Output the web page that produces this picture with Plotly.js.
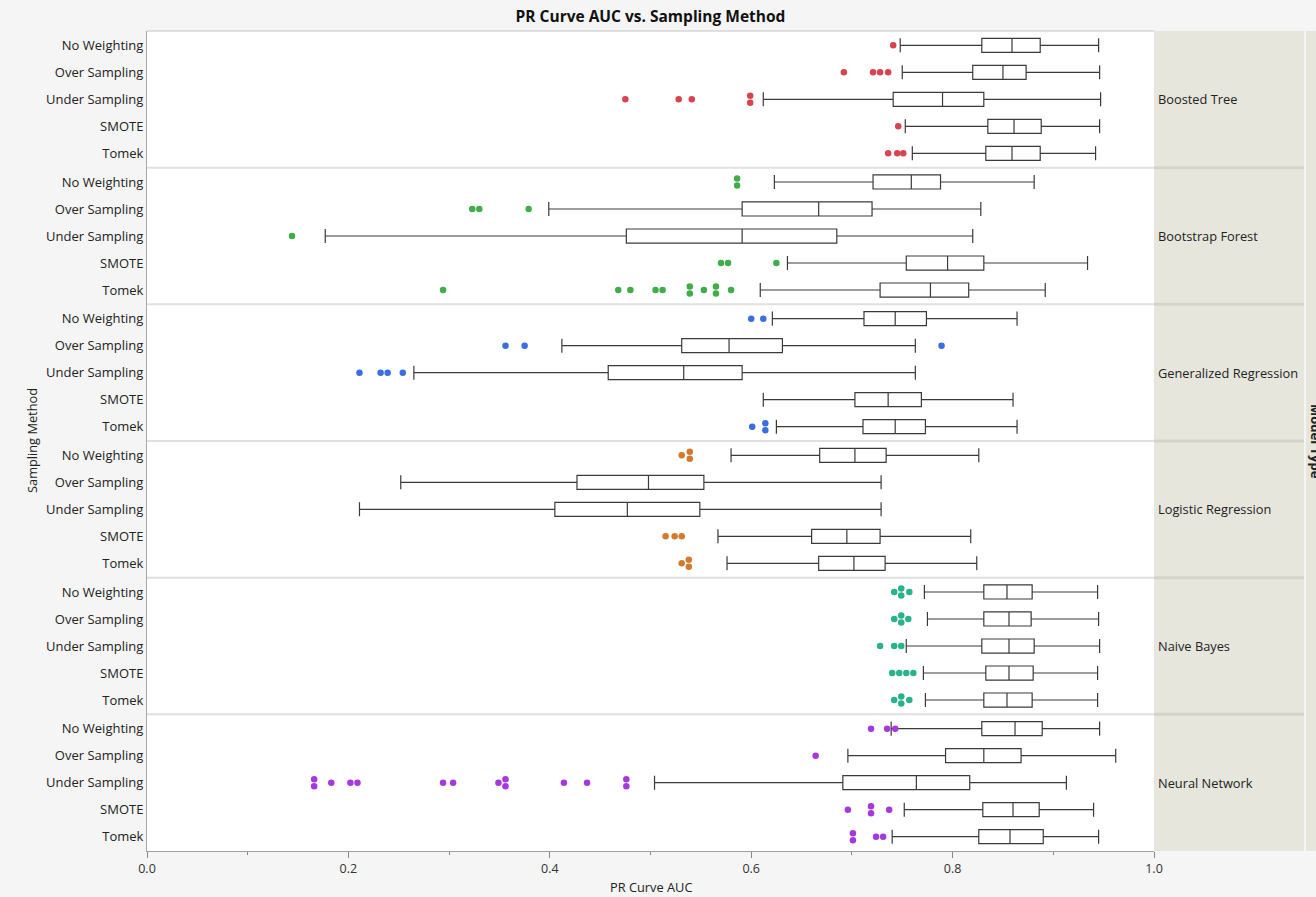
<!DOCTYPE html>
<html>
<head>
<meta charset="utf-8">
<script src="https://cdn.plot.ly/plotly-3.0.1.min.js"></script>
<style>html,body{margin:0;padding:0;background:#f5f5f5;}#chart{width:1316px;height:897px;}</style>
</head>
<body>
<div id="chart"></div>
<script>
const methods = ['No Weighting','Over Sampling','Under Sampling','SMOTE','Tomek'];
const models = ['Boosted Tree','Bootstrap Forest','Generalized Regression','Logistic Regression','Naive Bayes','Neural Network'];
const pointColors = ['#d9434f','#3fae49','#3b6ee0','#d47a2e','#27b38b','#a638dd'];
const xTicks = [0, 0.2, 0.4, 0.6, 0.8, 1.0];

// rows: model, columns: method
const lowerFence = [
  [0.748,0.750,0.612,0.753,0.760],
  [0.623,0.399,0.177,0.636,0.609],
  [0.621,0.412,0.265,0.612,0.625],
  [0.580,0.252,0.211,0.567,0.576],
  [0.772,0.775,0.754,0.771,0.773],
  [0.739,0.696,0.504,0.752,0.740]
];
const q1 = [
  [0.829,0.820,0.741,0.835,0.833],
  [0.721,0.591,0.476,0.754,0.728],
  [0.712,0.531,0.458,0.703,0.711],
  [0.668,0.427,0.405,0.660,0.667],
  [0.831,0.831,0.829,0.833,0.831],
  [0.829,0.793,0.691,0.830,0.826]
];
const median = [
  [0.859,0.850,0.790,0.861,0.859],
  [0.759,0.667,0.591,0.795,0.778],
  [0.743,0.578,0.533,0.736,0.743],
  [0.703,0.498,0.477,0.695,0.702],
  [0.854,0.856,0.856,0.856,0.854],
  [0.862,0.831,0.764,0.860,0.857]
];
const q3 = [
  [0.887,0.873,0.831,0.888,0.887],
  [0.788,0.720,0.685,0.831,0.816],
  [0.774,0.631,0.591,0.769,0.773],
  [0.734,0.553,0.549,0.728,0.733],
  [0.879,0.878,0.881,0.880,0.879],
  [0.889,0.868,0.817,0.886,0.890]
];
const upperFence = [
  [0.945,0.946,0.947,0.946,0.942],
  [0.881,0.828,0.820,0.934,0.892],
  [0.864,0.763,0.763,0.860,0.864],
  [0.826,0.729,0.729,0.818,0.824],
  [0.944,0.945,0.946,0.944,0.944],
  [0.946,0.962,0.913,0.940,0.945]
];

const outBoostedTree = [[0.741],[0.692,0.721,0.728,0.736],[0.475,0.528,0.541,0.599,0.599],[0.746],[0.736,0.745,0.751]];
const outBootstrapForest = [[0.586,0.586],[0.323,0.330,0.379],[0.144],[0.570,0.577,0.625],[0.294,0.468,0.480,0.505,0.512,0.539,0.539,0.553,0.565,0.565,0.580]];
const outGenReg = [[0.600,0.612],[0.356,0.375,0.789],[0.211,0.232,0.239,0.254],[],[0.601,0.614,0.614]];
const outLogReg = [[0.531,0.539,0.539],[],[],[0.515,0.524,0.531],[0.531,0.538,0.538]];
const outNaiveBayes = [[0.742,0.749,0.749,0.757],[0.742,0.749,0.749,0.756],[0.728,0.742,0.749],[0.740,0.747,0.754,0.761],[0.742,0.749,0.749,0.757]];
const outNeuralNet = [[0.719,0.735,0.743],[0.664],[0.166,0.166,0.183,0.202,0.209,0.294,0.304,0.349,0.356,0.356,0.414,0.437,0.476,0.476],[0.696,0.719,0.719,0.737],[0.701,0.701,0.724,0.731]];
const outliers = [outBoostedTree, outBootstrapForest, outGenReg, outLogReg, outNaiveBayes, outNeuralNet];

const FONT = 'Open Sans, Noto Sans, sans-serif';
const L = 147, R = 162, T = 31, B = 46, WID = 1316, HEI = 897;
const PW = WID - L - R, PH = HEI - T - B;
const nP = models.length;
const rowPos = methods.map((m, i) => i);

const traces = [];
const layout = {
  width: WID, height: HEI,
  margin: {l: L, r: R, t: T, b: B, pad: 0},
  paper_bgcolor: '#f5f5f5',
  plot_bgcolor: '#ffffff',
  showlegend: false,
  font: {family: FONT, size: 12, color: '#222'},
  title: {text: 'PR Curve AUC vs. Sampling Method', x: 0.5, xref: 'paper', y: 1 - 17/HEI, yref: 'container', yanchor: 'middle', xanchor: 'center',
          font: {family: FONT, size: 15.5, color: '#111', weight: 'bold'}},
  xaxis: {range: [0, 1], anchor: 'y' + nP, tickvals: xTicks, tickformat: '.1f', ticks: 'outside', ticklen: 6, tickcolor: '#888',
          showline: true, linecolor: '#a0a0a0', linewidth: 1, showgrid: false, zeroline: false,
          tickfont: {size: 12.5, color: '#333'},
          minor: {dtick: 0.1, tick0: 0, ticks: 'outside', ticklen: 3, tickcolor: '#888', showgrid: false}},
  shapes: [], annotations: []
};

for (let k = 0; k < nP; k++) {
  const yName = k === 0 ? 'y' : 'y' + (k + 1);
  const axKey = k === 0 ? 'yaxis' : 'yaxis' + (k + 1);
  layout[axKey] = {
    domain: [1 - (k + 1) / nP, 1 - k / nP], range: [4.53, -0.53], anchor: 'x',
    tickvals: rowPos, ticktext: methods, ticks: '', showgrid: false, zeroline: false,
    showline: true, linecolor: '#a8a8a8', linewidth: 1, tickfont: {size: 13, color: '#222'}
  };
  traces.push({
    type: 'box', orientation: 'h', xaxis: 'x', yaxis: yName,
    y: rowPos, q1: q1[k], median: median[k], q3: q3[k], lowerfence: lowerFence[k], upperfence: upperFence[k],
    boxpoints: false, width: 0.52, whiskerwidth: 1,
    fillcolor: '#ffffff', line: {color: '#3a3a3a', width: 1.2}, hoverinfo: 'skip'
  });
  const ox = [], oy = [];
  outliers[k].forEach((vals, r) => {
    const counts = {};
    vals.forEach(v => { counts[v] = (counts[v] || 0) + 1; });
    const seen = {};
    vals.forEach(v => {
      const n = counts[v];
      const idx = seen[v] || 0; seen[v] = idx + 1;
      const off = n === 1 ? 0 : (idx - (n - 1) / 2) * 0.26;
      ox.push(v); oy.push(r + off);
    });
  });
  traces.push({
    type: 'scatter', mode: 'markers', xaxis: 'x', yaxis: yName, x: ox, y: oy,
    marker: {size: 6.5, color: pointColors[k]}, hoverinfo: 'skip', cliponaxis: false
  });
  // facet label
  layout.annotations.push({
    xref: 'paper', yref: 'paper', x: 1 + 2 / PW, y: 1 - (k + 0.5) / nP, xanchor: 'left', yanchor: 'middle',
    text: models[k], showarrow: false, font: {family: FONT, size: 12.8, color: '#222'}
  });
}

// strip backgrounds
layout.shapes.push({type: 'rect', xref: 'paper', yref: 'paper', x0: 1, x1: 1 + 150 / PW, y0: 0, y1: 1, fillcolor: '#e6e6dd', line: {width: 0}, layer: 'below'});
layout.shapes.push({type: 'rect', xref: 'paper', yref: 'paper', x0: 1 + 152 / PW, x1: 1 + 175 / PW, y0: 0, y1: 1, fillcolor: '#e6e6dd', line: {width: 0}, layer: 'below'});
for (let k = 1; k < nP; k++) {
  const yy = 1 - k / nP;
  layout.shapes.push({type: 'line', xref: 'paper', yref: 'paper', x0: 0, x1: 1, y0: yy, y1: yy, line: {color: '#e0e0e0', width: 2}});
  layout.shapes.push({type: 'line', xref: 'paper', yref: 'paper', x0: 1, x1: 1 + 150 / PW, y0: yy, y1: yy, line: {color: '#d4d4ca', width: 3}});
}
layout.shapes.push({type: 'line', xref: 'paper', yref: 'paper', x0: 0, x1: 1, y0: 1, y1: 1, line: {color: '#c4c4c4', width: 1}});

// axis titles
layout.annotations.push({xref: 'paper', yref: 'paper', x: (32 - L) / PW, y: 0.5, textangle: -90, xanchor: 'center', yanchor: 'middle',
  text: 'Sampling Method', showarrow: false, font: {family: FONT, size: 12.8, color: '#222'}});
layout.annotations.push({xref: 'paper', yref: 'paper', x: 0.5, y: -(887 - (T + PH)) / PH, xanchor: 'center', yanchor: 'middle',
  text: 'PR Curve AUC', showarrow: false, font: {family: FONT, size: 12.8, color: '#222'}});
layout.annotations.push({xref: 'paper', yref: 'paper', x: (1316 - L) / PW, y: 0.5, textangle: 90, xanchor: 'center', yanchor: 'middle',
  text: 'Model Type', showarrow: false, font: {family: FONT, size: 13, color: '#222', weight: 'bold'}});

Plotly.newPlot('chart', traces, layout, {staticPlot: true, displayModeBar: false});
</script>
</body>
</html>
